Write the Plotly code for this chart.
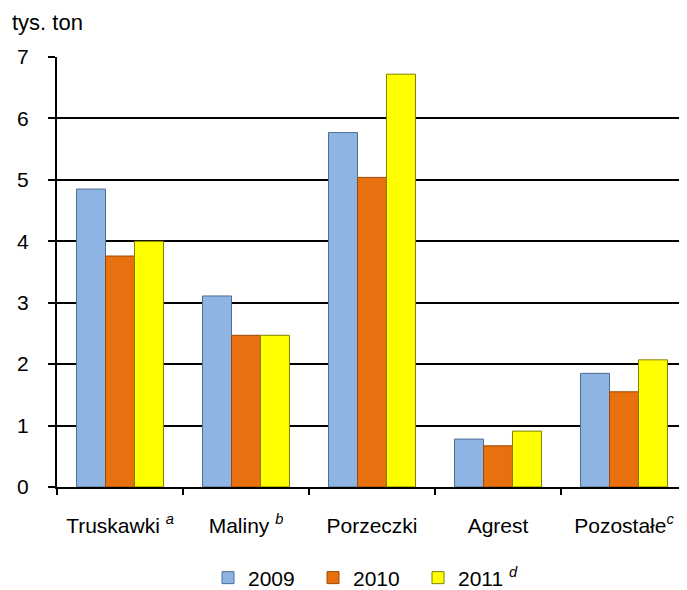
import plotly.graph_objects as go

categories = ["Truskawki", "Maliny", "Porzeczki", "Agrest", "Pozostałe"]
tick_labels = ["Truskawki <sup><i>a</i></sup>", "Maliny <sup><i>b</i></sup>", "Porzeczki",
               "Agrest", "Pozostałe<sup><i>c</i></sup>"]
series_names = ["2009", "2010", "2011 <sup><i>d</i></sup>"]
values_2009 = [4.85, 3.11, 5.77, 0.78, 1.85]
values_2010 = [3.76, 2.47, 5.04, 0.67, 1.55]
values_2011 = [4.00, 2.47, 6.72, 0.91, 2.07]
y_ticks = [0, 1, 2, 3, 4, 5, 6, 7]

colors = ["#8DB4E2", "#E8700E", "#FFFF00"]
edge_colors = ["#4F6E96", "#9A4A08", "#7F7F00"]

# page body has an 8px margin; compensate so the picture lands like the reference
OFF = 8
W, H = 687 - OFF, 590 - OFF
L, T = 57 - OFF, 57 - OFF
R = 0
PH = 430
B = H - T - PH
PW = W - L - R

fig = go.Figure()
for name, vals, c, ec in zip(series_names, [values_2009, values_2010, values_2011], colors, edge_colors):
    fig.add_trace(go.Bar(
        x=categories, y=vals, name=name,
        marker=dict(color=c, line=dict(color=ec, width=1)),
    ))

fig.update_layout(
    width=W, height=H,
    margin=dict(l=L, r=R, t=T, b=B, autoexpand=False),
    paper_bgcolor="white", plot_bgcolor="white",
    barmode="group", bargap=0.31, bargroupgap=0,
    font=dict(family="Liberation Sans, Arial, sans-serif", size=21, color="black"),
    showlegend=True,
    legend=dict(orientation="h", x=(208 - 57) / PW, y=-(578 - 487) / PH,
                xanchor="left", yanchor="middle",
                font=dict(size=21), itemwidth=30, traceorder="normal",
                entrywidth=60),
    annotations=[dict(text="tys. ton", xref="paper", yref="paper",
                      x=(10 - 57) / PW, y=1 + (57 - 22) / PH,
                      xanchor="left", yanchor="middle", showarrow=False,
                      font=dict(size=22))],
)

fig.update_xaxes(
    type="category", tickmode="array", tickvals=categories, ticktext=tick_labels,
    tickson="boundaries", ticks="outside", ticklen=6, tickcolor="black", tickwidth=1.5,
    showline=True, linecolor="black", linewidth=2, showgrid=False,
    tickfont=dict(size=21), ticklabelstandoff=19, automargin=False,
)
fig.update_yaxes(
    range=[0, 7], tickvals=y_ticks, ticks="outside", ticklen=7, tickcolor="black", tickwidth=1.5,
    showline=True, linecolor="black", linewidth=2,
    showgrid=True, gridcolor="black", gridwidth=2, zeroline=False,
    tickfont=dict(size=21), ticklabelstandoff=15, automargin=False,
)

fig.write_html("out.html")
